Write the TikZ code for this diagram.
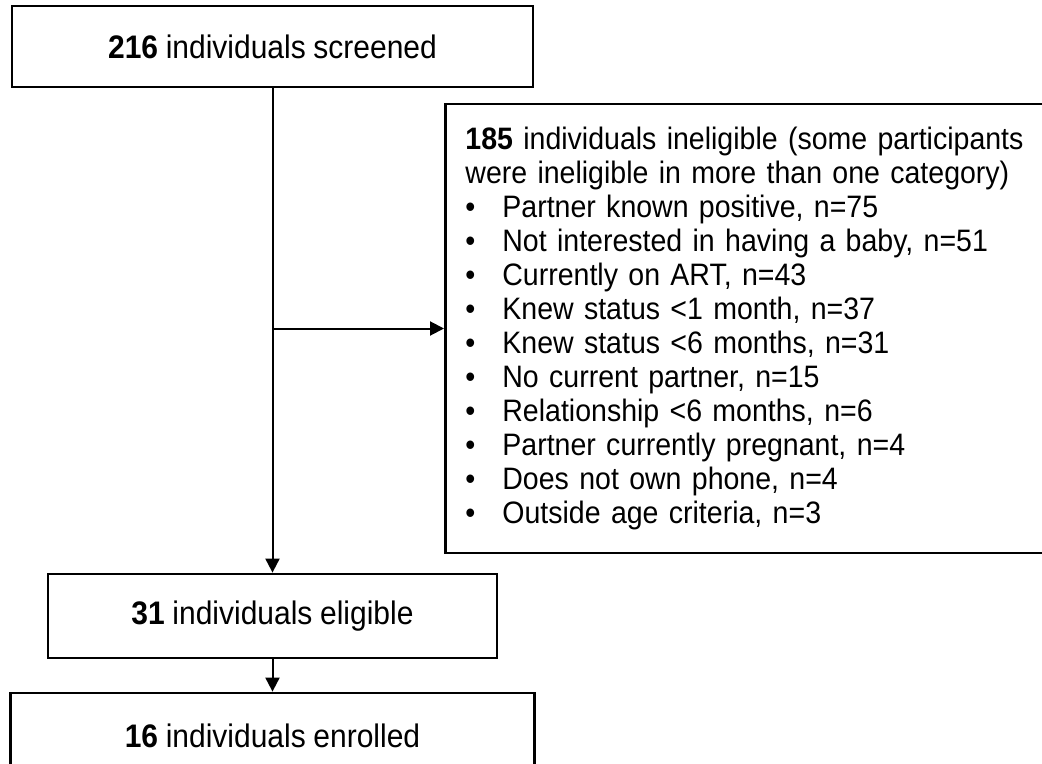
\documentclass[tikz,border=0pt]{standalone}
\usepackage{fontspec}
\setmainfont{Liberation Sans}[FakeStretch=0.92,WordSpace=0.92]
\usetikzlibrary{arrows.meta}
\newcommand{\listdot}{\makebox[18.5pt][l]{\textbullet}}

\begin{document}
\begin{tikzpicture}[x=0.5pt,y=-0.5pt,
  box/.style={draw,line width=1.4pt,inner sep=0pt,font=\fontsize{16.3}{19}\selectfont},
  conn/.style={-{Triangle[length=7pt,width=7pt]},line width=1pt}]
\useasboundingbox[fill=white] (0,0) rectangle (1042,764);
\node[box,minimum width=260.5pt,minimum height=40.5pt] (scr) at (272.5,46.5) {\textbf{216} individuals screened};
\node[box,anchor=west,minimum height=224.5pt,text width=300pt,inner xsep=10pt,align=left,
  font=\fontsize{15.5}{17}\selectfont] (inel) at (444,328.5)
  {\textbf{185} individuals ineligible (some participants\\
   were ineligible in more than one category)\\
   \listdot Partner known positive, n=75\\
   \listdot Not interested in having a baby, n=51\\
   \listdot Currently on ART, n=43\\
   \listdot Knew status <1 month, n=37\\
   \listdot Knew status <6 months, n=31\\
   \listdot No current partner, n=15\\
   \listdot Relationship <6 months, n=6\\
   \listdot Partner currently pregnant, n=4\\
   \listdot Does not own phone, n=4\\
   \listdot Outside age criteria, n=3};
\node[box,minimum width=224.5pt,minimum height=42pt] (elig) at (272.5,616) {\textbf{31} individuals eligible};
\node[box,minimum width=262pt,minimum height=43pt] (enr) at (272.5,736) {\textbf{16} individuals enrolled};
%
\coordinate (brk) at (scr.south |- inel.west);
\draw[conn] (scr.south) -- (elig.north);
\draw[conn] (brk) -- (inel.west);
\draw[conn] (elig.south) -- (enr.north);
\end{tikzpicture}
\end{document}
